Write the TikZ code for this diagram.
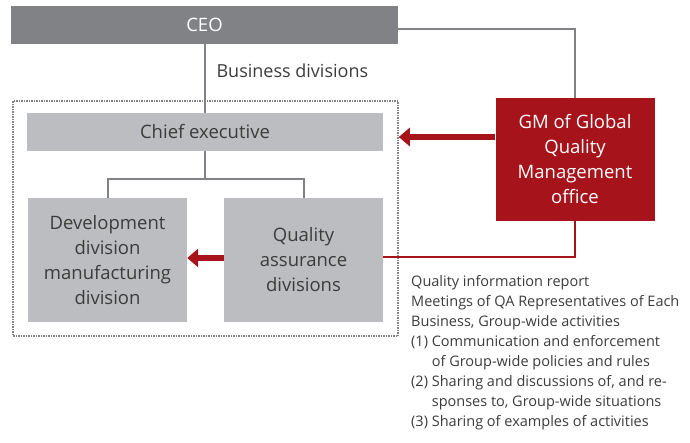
\documentclass[tikz,border=0pt]{standalone}
\usepackage{fontspec}
\setmainfont{Open Sans}
\usetikzlibrary{positioning, arrows.meta}
\definecolor{darkgray}{HTML}{808285}
\definecolor{lightgray}{HTML}{BCBDC0}
\definecolor{qred}{HTML}{A6131A}
\definecolor{textgray}{HTML}{3C3C3C}

\tikzset{
  ceobox/.style={fill=darkgray, text=white, minimum width=387pt, minimum height=38pt, font=\fontsize{18.5}{25}\selectfont},
  unitbox/.style={fill=lightgray, text=textgray, align=center, font=\fontsize{18.5}{25}\selectfont},
  gmbox/.style={fill=qred, text=white, align=center, minimum width=159pt, minimum height=123pt, font=\fontsize{18.5}{25}\selectfont},
  grayline/.style={draw=darkgray, line width=2pt},
  redline/.style={draw=qred, line width=1.8pt},
  redarrow/.style={draw=qred, line width=6pt, -{Triangle[length=11pt, width=18pt]}},
}

\begin{document}
\begin{tikzpicture}[x=1pt, y=-1pt]
\useasboundingbox (0,0) rectangle (690,442);

\node[ceobox] (ceo) at (204.5,25) {CEO};
\node[draw=darkgray, densely dotted, line width=1.5pt, minimum width=385pt, minimum height=235pt] (bdiv) at (205.5,218.5) {};
\node[unitbox, minimum width=356pt, minimum height=38pt] (chief) at (205,132) {Chief executive};
\node[unitbox, minimum width=159pt, minimum height=124pt] (dev) at (107.5,260) {Development\\division\\manufacturing\\division};
\node[unitbox, minimum width=159pt, minimum height=124pt] (qa) at (303.5,260) {Quality\\assurance\\divisions};
\node[gmbox] (gm) at (575,159.5) {GM of Global\\Quality\\Management\\office};

\node[anchor=west, text=textgray, font=\fontsize{18}{25}\selectfont] (busdiv) at (213,71) {Business divisions};

% lines
\draw[grayline] (ceo.south) -- (ceo.south |- chief.north);
\draw[grayline] (chief.south) -- (chief.south |- 0,179) -| (dev.north);
\draw[grayline] (chief.south |- 0,179) -| (qa.north);
\draw[grayline] ([yshift=-4pt]ceo.east) -| (gm.north);
\draw[redline] (qa.east |- 0,257) -| (gm.south);

% arrows
\draw[redarrow] ([yshift=22.5pt]gm.west) -- ([yshift=22.5pt]gm.west -| bdiv.east);
\draw[redarrow] ([yshift=2pt]qa.west) -- ([yshift=2pt]dev.east);

\node[anchor=north west, align=left, text=textgray, font=\fontsize{14.5}{20}\selectfont, inner sep=0pt] (report) at (411,275)
  {Quality information report\\
   Meetings of QA Representatives of Each\\
   Business, Group-wide activities\\
   (1) Communication and enforcement\\
   \phantom{(1) }of Group-wide policies and rules\\
   (2) Sharing and discussions of, and re-\\
   \phantom{(2) }sponses to, Group-wide situations\\
   (3) Sharing of examples of activities};
\end{tikzpicture}
\end{document}
